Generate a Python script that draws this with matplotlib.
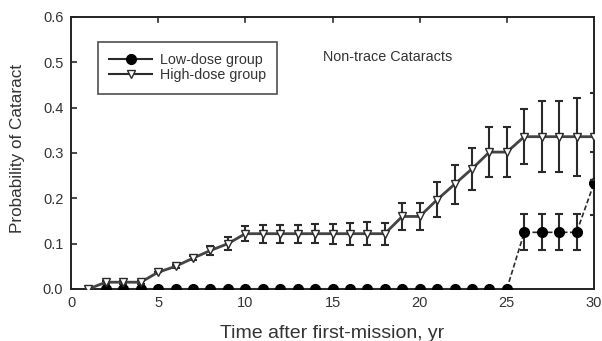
import matplotlib
matplotlib.use("Agg")
import matplotlib.pyplot as plt
import numpy as np

plt.rcParams['font.family'] = ['Liberation Sans', 'DejaVu Sans']

# High-dose group
high_x = list(range(1, 31))
high_y = [0.0, 0.015, 0.015, 0.015, 0.037, 0.050, 0.068, 0.085, 0.100, 0.122,
          0.122, 0.122, 0.122, 0.122, 0.122, 0.122, 0.122, 0.122, 0.160, 0.160,
          0.197, 0.231, 0.265, 0.302, 0.302, 0.336, 0.336, 0.336, 0.336, 0.336]
high_err = [0.0, 0.003, 0.003, 0.003, 0.0, 0.003, 0.005, 0.010, 0.014, 0.017,
            0.020, 0.020, 0.020, 0.021, 0.022, 0.024, 0.025, 0.024, 0.030, 0.030,
            0.038, 0.043, 0.047, 0.056, 0.056, 0.060, 0.079, 0.079, 0.086, 0.096]

# Low-dose group
low_x = list(range(2, 31))
low_y = [0.0] * 24 + [0.125, 0.125, 0.125, 0.125, 0.233]
low_err = [0.0] * 24 + [0.040, 0.040, 0.040, 0.040, 0.070]

xticks = [0, 5, 10, 15, 20, 25, 30]
yticks = [0.0, 0.1, 0.2, 0.3, 0.4, 0.5, 0.6]

fig = plt.figure(figsize=(6.02, 3.41), dpi=100)
ax = fig.add_axes([71/602, 1-289/341, (594-71)/602, (289-17)/341])

lc = '#2a2a2a'
txt = '#333333'

# low-dose: solid up to 25, dashed afterwards
n0 = low_x.index(25)
ax.plot(low_x[:n0+1], low_y[:n0+1], color=lc, lw=1.5, zorder=3)
ax.plot(low_x[n0:], low_y[n0:], color=lc, lw=1.2, ls=(0, (3, 1.5)), zorder=3)
ax.errorbar(low_x, low_y, yerr=low_err, fmt='none', ecolor=lc, elinewidth=1.5,
            capsize=3.2, capthick=1.5, zorder=3)
ax.plot(low_x, low_y, 'o', color='black', ms=7, zorder=4)

ax.errorbar(high_x, high_y, yerr=high_err, fmt='none', ecolor=lc, elinewidth=1.5,
            capsize=3.2, capthick=1.5, zorder=5)
ax.plot(high_x, high_y, color='#444444', lw=2.0, zorder=5)
ax.plot(high_x, high_y, 'v', mfc='white', mec=lc, mew=1.0, ms=5.5, zorder=6)

# legend proxies
h1, = ax.plot([], [], color=lc, lw=1.5, marker='o', mfc='black', mec='black', ms=7)
h2, = ax.plot([], [], color=lc, lw=1.5, marker='v', mfc='white', mec=lc, ms=5.5)
leg = ax.legend([h1, h2], ['Low-dose group', 'High-dose group'],
                loc='upper left', bbox_to_anchor=(27/523, 1-25/272),
                fontsize=10.3, frameon=True, fancybox=False, handlelength=3.0,
                borderpad=0.8, labelspacing=0.05, handletextpad=0.5,
                borderaxespad=0)
leg.get_frame().set_edgecolor('#222222')
leg.get_frame().set_linewidth(1.2)
for t in leg.get_texts():
    t.set_color(txt)

ax.text(18.18, 0.512, 'Non-trace Cataracts', fontsize=10.4, color=txt,
        ha='center', va='center')

ax.set_xlim(0, 30)
ax.set_ylim(0, 0.6)
ax.set_xticks(xticks)
ax.set_yticks(yticks)
ax.set_yticklabels([f'{v:.1f}' for v in yticks])
ax.tick_params(axis='x', labelsize=10.5, labelcolor=txt, length=0, pad=5)
ax.tick_params(axis='y', labelsize=10.5, labelcolor=txt, direction='in',
               length=4, width=1.2, color=lc, pad=5.5)

# top inward ticks
for xv in xticks[1:-1]:
    ax.plot([xv, xv], [0.6, 0.59], color=lc, lw=1.2, clip_on=False)

for s in ax.spines.values():
    s.set_linewidth(1.4)
    s.set_color('#222222')

ax.set_xlabel('Time after first-mission, yr', fontsize=14, color=txt, labelpad=11)
ax.set_ylabel('Probability of Cataract', fontsize=12.3, color=txt)
ax.yaxis.set_label_coords(-0.088, 0.515)

fig.savefig('out.png', dpi=100)
